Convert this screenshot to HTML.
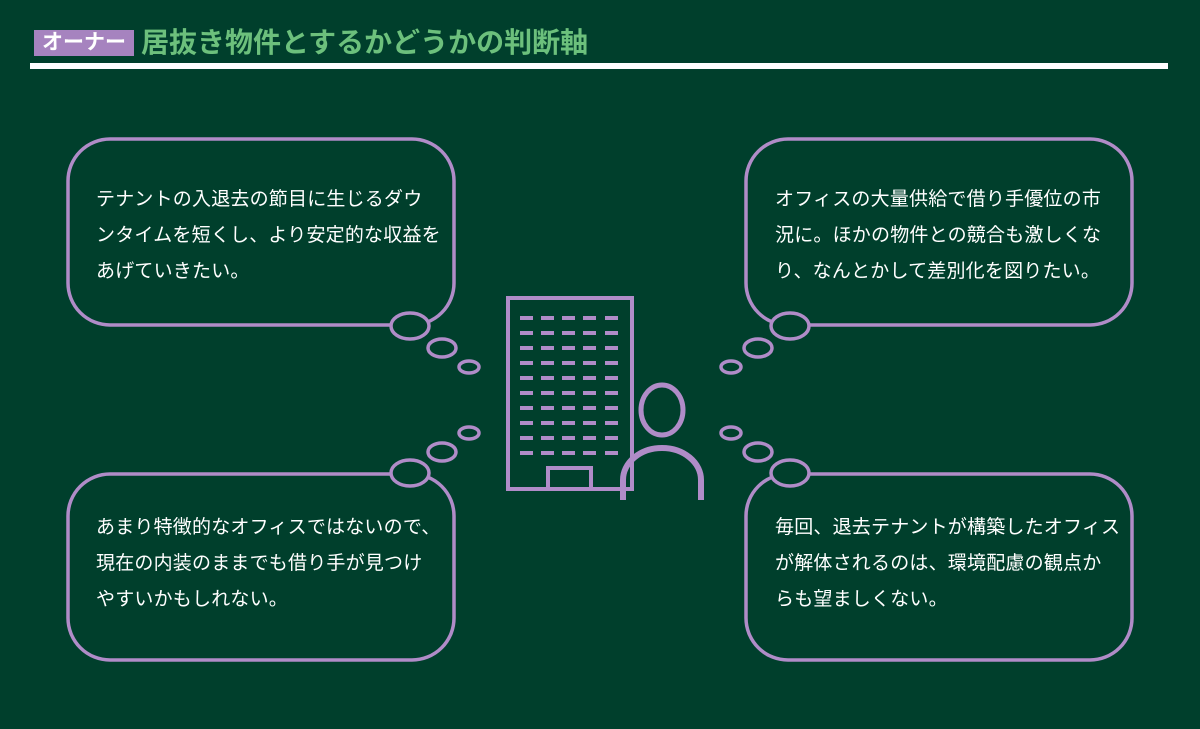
<!DOCTYPE html>
<html><head><meta charset="utf-8"><style>
body{margin:0;width:1200px;height:729px;background:#003f2c;position:relative;overflow:hidden;font-family:"Liberation Sans","Noto Sans CJK JP",sans-serif}
.t{position:absolute;color:#fff;font-size:19px;line-height:36px;letter-spacing:0.2px;white-space:nowrap}
</style></head><body>
<div style="position:absolute;left:34px;top:30px;width:100px;height:26px;background:#a683bf;color:#fff;font-weight:bold;font-size:21px;line-height:26px;text-align:center">オーナー</div>
<div style="position:absolute;left:141px;top:24px;color:#6cc07c;font-size:28px;line-height:38px;font-weight:bold;white-space:nowrap">居抜き物件とするかどうかの判断軸</div>
<div style="position:absolute;left:30px;top:63px;width:1138px;height:6px;background:#fff"></div>
<svg width="1200" height="729" style="position:absolute;left:0;top:0" fill="none" stroke="#b08cc8" stroke-width="3.5">
<rect x="68" y="139" width="386" height="186" rx="42"/>
<rect x="746" y="139" width="386" height="186" rx="42"/>
<rect x="68" y="474" width="386" height="186" rx="42"/>
<rect x="746" y="474" width="386" height="186" rx="42"/>
<g fill="#003f2c">
<ellipse cx="410" cy="326" rx="19" ry="13"/><ellipse cx="442" cy="348" rx="14" ry="9"/><ellipse cx="469" cy="367" rx="10" ry="6"/>
<ellipse cx="790" cy="326" rx="19" ry="13"/><ellipse cx="758" cy="348" rx="14" ry="9"/><ellipse cx="731" cy="367" rx="10" ry="6"/>
<ellipse cx="410" cy="473" rx="19" ry="13"/><ellipse cx="442" cy="452" rx="14" ry="9"/><ellipse cx="469" cy="433" rx="10" ry="6"/>
<ellipse cx="790" cy="473" rx="19" ry="13"/><ellipse cx="758" cy="452" rx="14" ry="9"/><ellipse cx="731" cy="433" rx="10" ry="6"/>
</g>
<rect x="508" y="298" width="124" height="191" stroke-width="4"/>
<rect x="548" y="468" width="43" height="21" stroke-width="4"/>
<ellipse cx="662" cy="410" rx="21" ry="25" stroke-width="5"/>
<path d="M623 500 V480 A39 32 0 0 1 701 480 V500" stroke-width="6"/>
</svg>
<svg width="1200" height="729" style="position:absolute;left:0;top:0"><g fill="#b08cc8">
<rect x="520" y="316" width="13" height="4"/><rect x="541" y="316" width="13" height="4"/><rect x="562" y="316" width="13" height="4"/><rect x="583" y="316" width="13" height="4"/><rect x="605" y="316" width="13" height="4"/>
<rect x="520" y="331" width="13" height="4"/><rect x="541" y="331" width="13" height="4"/><rect x="562" y="331" width="13" height="4"/><rect x="583" y="331" width="13" height="4"/><rect x="605" y="331" width="13" height="4"/>
<rect x="520" y="346" width="13" height="4"/><rect x="541" y="346" width="13" height="4"/><rect x="562" y="346" width="13" height="4"/><rect x="583" y="346" width="13" height="4"/><rect x="605" y="346" width="13" height="4"/>
<rect x="520" y="361" width="13" height="4"/><rect x="541" y="361" width="13" height="4"/><rect x="562" y="361" width="13" height="4"/><rect x="583" y="361" width="13" height="4"/><rect x="605" y="361" width="13" height="4"/>
<rect x="520" y="376" width="13" height="4"/><rect x="541" y="376" width="13" height="4"/><rect x="562" y="376" width="13" height="4"/><rect x="583" y="376" width="13" height="4"/><rect x="605" y="376" width="13" height="4"/>
<rect x="520" y="391" width="13" height="4"/><rect x="541" y="391" width="13" height="4"/><rect x="562" y="391" width="13" height="4"/><rect x="583" y="391" width="13" height="4"/><rect x="605" y="391" width="13" height="4"/>
<rect x="520" y="406" width="13" height="4"/><rect x="541" y="406" width="13" height="4"/><rect x="562" y="406" width="13" height="4"/><rect x="583" y="406" width="13" height="4"/><rect x="605" y="406" width="13" height="4"/>
<rect x="520" y="421" width="13" height="4"/><rect x="541" y="421" width="13" height="4"/><rect x="562" y="421" width="13" height="4"/><rect x="583" y="421" width="13" height="4"/><rect x="605" y="421" width="13" height="4"/>
<rect x="520" y="436" width="13" height="4"/><rect x="541" y="436" width="13" height="4"/><rect x="562" y="436" width="13" height="4"/><rect x="583" y="436" width="13" height="4"/><rect x="605" y="436" width="13" height="4"/>
<rect x="520" y="451" width="13" height="4"/><rect x="541" y="451" width="13" height="4"/><rect x="562" y="451" width="13" height="4"/><rect x="583" y="451" width="13" height="4"/><rect x="605" y="451" width="13" height="4"/>
</g></svg>
<div class="t" style="left:96px;top:182px">テナントの入退去の節目に生じるダウ<br>ンタイムを短くし、より安定的な収益を<br>あげていきたい。</div>
<div class="t" style="left:775px;top:182px">オフィスの大量供給で借り手優位の市<br>況に。ほかの物件との競合も激しくな<br>り、なんとかして差別化を図りたい。</div>
<div class="t" style="left:96px;top:510px">あまり特徴的なオフィスではないので、<br>現在の内装のままでも借り手が見つけ<br>やすいかもしれない。</div>
<div class="t" style="left:775px;top:510px">毎回、退去テナントが構築したオフィス<br>が解体されるのは、環境配慮の観点か<br>らも望ましくない。</div>
</body></html>
